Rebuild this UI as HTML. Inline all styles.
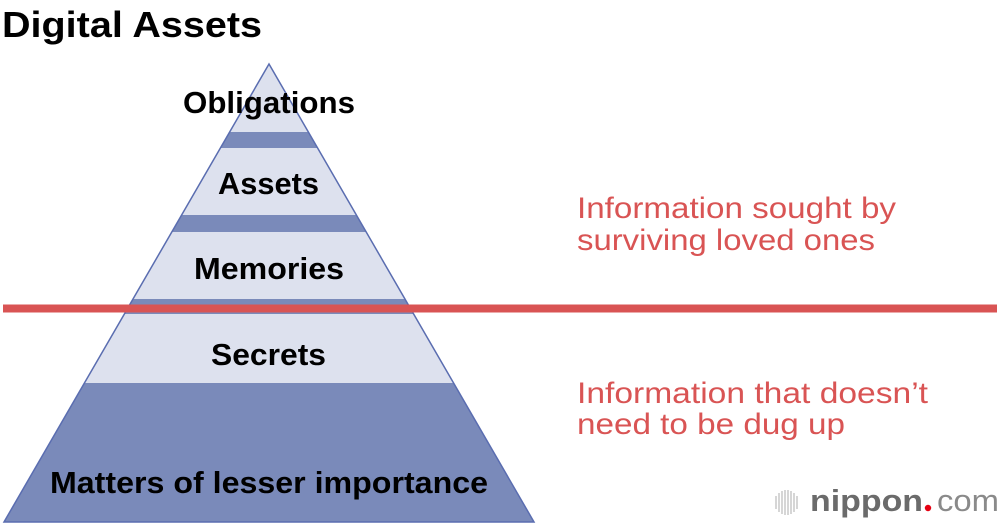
<!DOCTYPE html>
<html>
<head>
<meta charset="utf-8">
<style>
  html,body{margin:0;padding:0;background:#fff;}
  svg{display:block;}
</style>
</head>
<body>
<svg width="1000" height="524" viewBox="0 0 1000 524" xmlns="http://www.w3.org/2000/svg">
  <defs>
    <clipPath id="pyr">
      <polygon points="269,64 4,522 534,522"/>
    </clipPath>
  </defs>
  <rect width="1000" height="524" fill="#fff"/>

  <!-- Title -->
  <text x="2" y="37" font-family="Liberation Sans, Arial, sans-serif" font-weight="bold" font-size="36" fill="#000" textLength="260" lengthAdjust="spacingAndGlyphs">Digital Assets</text>

  <!-- Pyramid bands -->
  <g clip-path="url(#pyr)">
    <rect x="0" y="60" width="540" height="72" fill="#dde1ee"/>
    <rect x="0" y="132" width="540" height="16" fill="#7a8aba"/>
    <rect x="0" y="148" width="540" height="67" fill="#dde1ee"/>
    <rect x="0" y="215" width="540" height="17" fill="#7a8aba"/>
    <rect x="0" y="232" width="540" height="67" fill="#dde1ee"/>
    <rect x="0" y="299" width="540" height="15" fill="#7a8aba"/>
    <rect x="0" y="314" width="540" height="69" fill="#dde1ee"/>
    <rect x="0" y="383" width="540" height="145" fill="#7a8aba"/>
  </g>
  <polygon points="269,64 4,522 534,522" fill="none" stroke="#5a6db0" stroke-width="1.5" stroke-linejoin="miter"/>

  <!-- Red divider -->
  <rect x="3" y="304.5" width="994" height="8" fill="#d95454"/>

  <!-- Pyramid labels -->
  <g font-family="Liberation Sans, Arial, sans-serif" font-weight="bold" font-size="31" fill="#000">
    <text x="183" y="113" textLength="172" lengthAdjust="spacingAndGlyphs">Obligations</text>
    <text x="218" y="194" textLength="101" lengthAdjust="spacingAndGlyphs">Assets</text>
    <text x="194" y="279" textLength="150" lengthAdjust="spacingAndGlyphs">Memories</text>
    <text x="211" y="365" textLength="115" lengthAdjust="spacingAndGlyphs">Secrets</text>
    <text x="50" y="493" textLength="438" lengthAdjust="spacingAndGlyphs">Matters of lesser importance</text>
  </g>

  <!-- Right red labels -->
  <g font-family="Liberation Sans, Arial, sans-serif" font-size="29.5" fill="#d95454">
    <text x="577" y="218" textLength="319" lengthAdjust="spacingAndGlyphs">Information sought by</text>
    <text x="577" y="250" textLength="298" lengthAdjust="spacingAndGlyphs">surviving loved ones</text>
    <text x="577" y="403" textLength="351" lengthAdjust="spacingAndGlyphs">Information that doesn’t</text>
    <text x="577" y="434" textLength="268" lengthAdjust="spacingAndGlyphs">need to be dug up</text>
  </g>

  <!-- nippon.com logo -->
  <g stroke="#c4c4c4" stroke-width="1.4">
    <line x1="776" y1="496" x2="776" y2="509"/>
    <line x1="779" y1="493" x2="779" y2="512"/>
    <line x1="782" y1="491" x2="782" y2="514"/>
    <line x1="785" y1="490" x2="785" y2="515"/>
    <line x1="788" y1="490" x2="788" y2="515"/>
    <line x1="791" y1="491" x2="791" y2="514"/>
    <line x1="794" y1="493" x2="794" y2="512"/>
    <line x1="797" y1="496" x2="797" y2="509"/>
  </g>
  <text x="810" y="511" font-family="Liberation Sans, Arial, sans-serif" font-weight="bold" font-size="31" fill="#6b6b6b" textLength="113" lengthAdjust="spacingAndGlyphs">nippon</text>
  <circle cx="928" cy="508" r="3.2" fill="#e60012"/>
  <text x="937" y="511" font-family="Liberation Sans, Arial, sans-serif" font-size="31" fill="#8a8a8a" textLength="62" lengthAdjust="spacingAndGlyphs">com</text>
</svg>
</body>
</html>
